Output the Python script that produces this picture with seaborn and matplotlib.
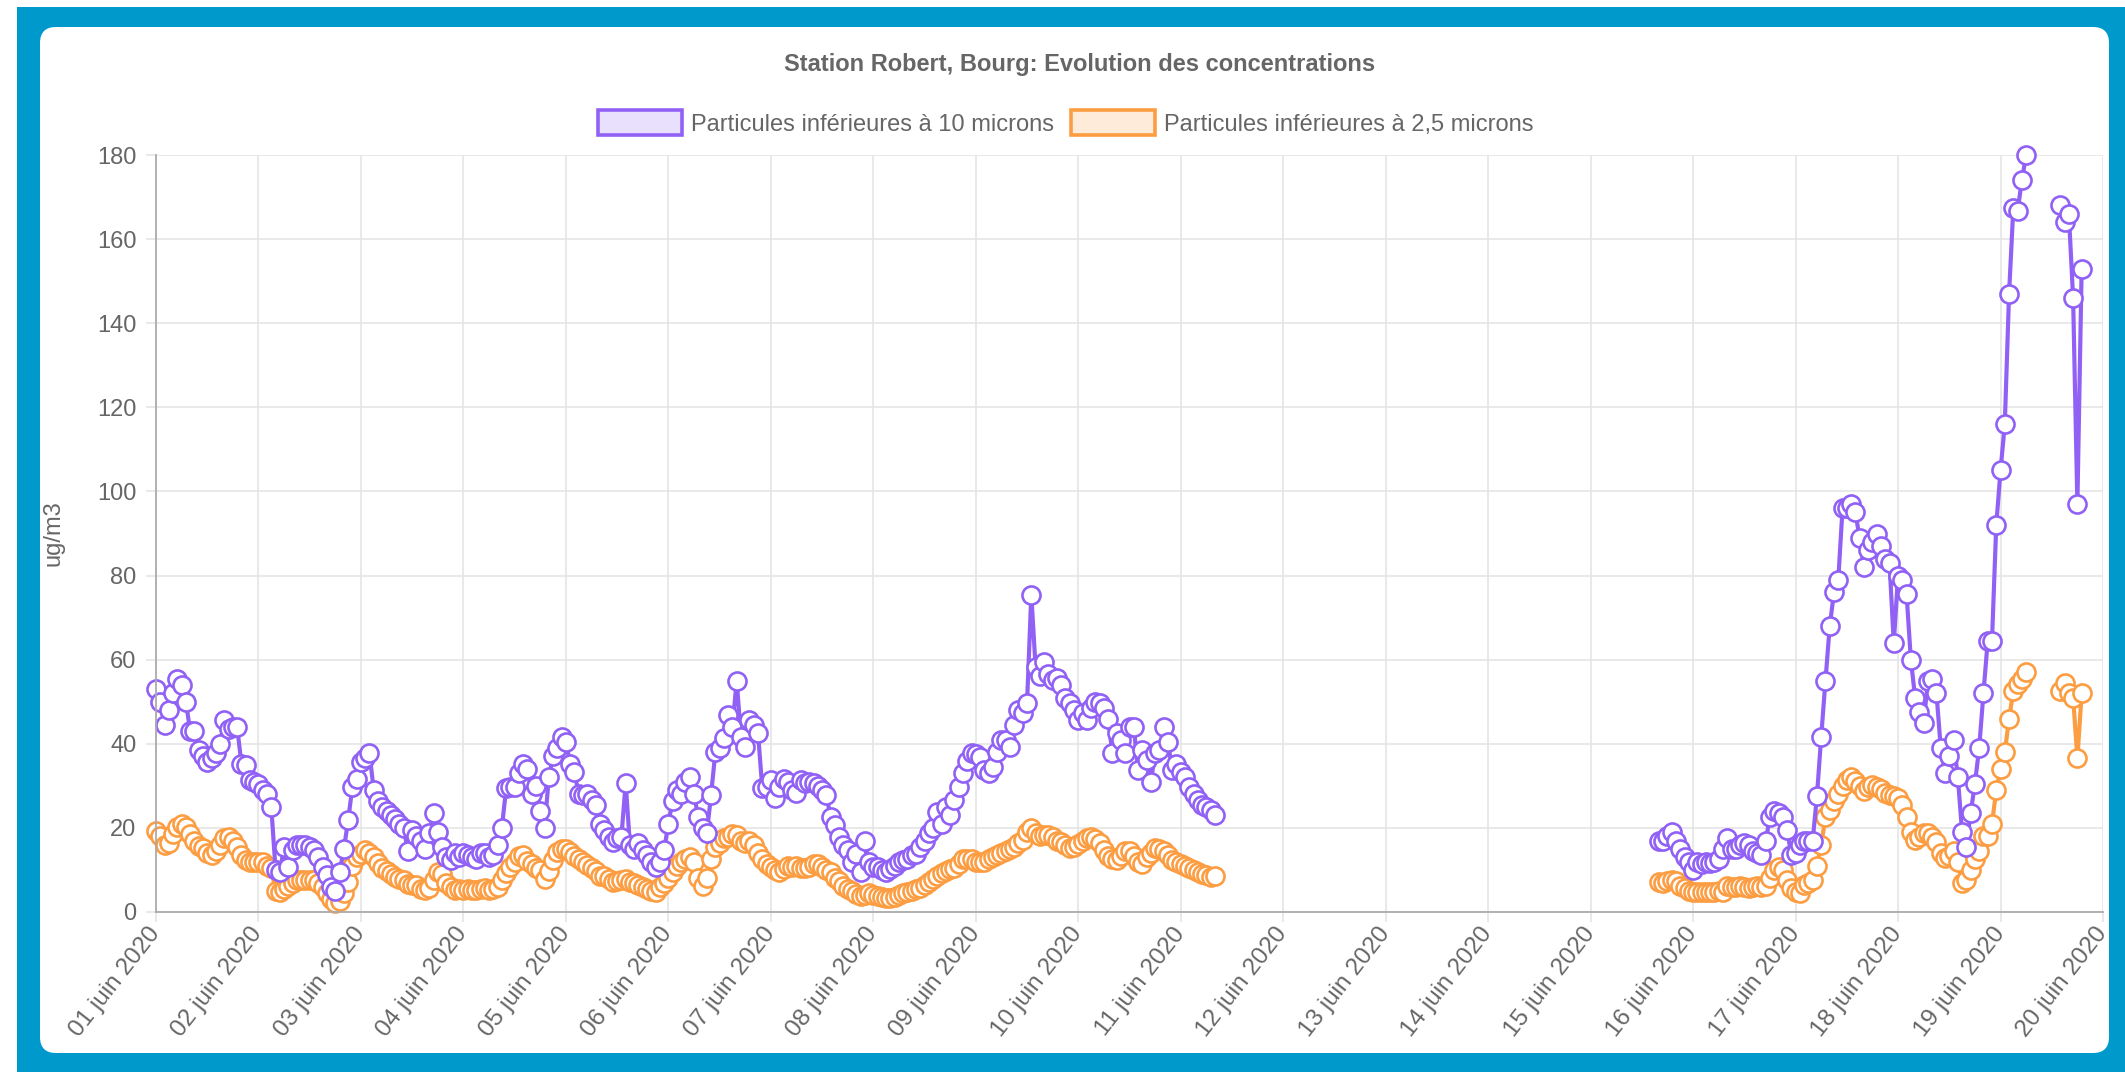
"""
Station Robert, Bourg - PM10 / PM2.5 hourly concentrations, June 2020
"""
import pandas as pd
import seaborn as sns
import matplotlib
matplotlib.use('agg')
import matplotlib.pyplot as plt
from matplotlib.patches import FancyBboxPatch, Rectangle, Patch
from matplotlib.transforms import IdentityTransform

W, H = 2125, 1072

# hourly values (ug/m3), three runs of measurements separated by gaps
seg_starts = ['2020-06-01 00:00', '2020-06-15 16:00', '2020-06-19 14:00']

pm10_a = [53, 50, 44.5, 48, 52, 55.5, 54, 50, 43, 43,
          38.5, 37, 35.7, 36.5, 37.7, 40, 45.6, 43.6, 44, 44,
          35.3, 35, 31.3, 31, 30.5, 29, 28, 25, 10, 9.5,
          15.5, 10.7, 14.7, 16, 15.9, 16, 15.5, 14.7, 13, 10.7,
          8.7, 6, 5, 9.5, 15, 21.8, 29.8, 31.7, 35.7, 36.5,
          37.7, 29, 26.5, 25, 24, 23, 22, 21, 20, 14.5,
          19.5, 18, 17, 15, 18.7, 23.5, 19, 15.5, 13, 12.3,
          14, 13, 14, 13.5, 13, 12.7, 14, 14, 13, 13.5,
          16, 20, 29.4, 29.8, 29.8, 33, 35.3, 34, 28, 30,
          24, 20, 32, 37, 39, 41.7, 40.5, 35.3, 33.3, 28,
          27.8, 28, 26.6, 25.4, 21, 19.4, 17.9, 16.7, 17.5, 17.9,
          30.6, 15.9, 15, 16.3, 14.7, 13.5, 11.9, 10.7, 11.9, 14.7,
          21, 26.5, 29, 28, 31, 32, 28, 22.5, 20, 18.7,
          27.8, 38, 39, 41.3, 46.8, 44, 55, 41.7, 39.3, 45.6,
          44.4, 42.5, 29.4, 29.8, 31.3, 27, 29.8, 31.7, 31, 29,
          28.2, 31.3, 30.6, 31, 30.6, 30, 29, 27.8, 22.6, 20.6,
          17.9, 15.9, 14.7, 11.9, 13.9, 9.5, 17, 11.9, 10.7, 10.7,
          9.9, 9.5, 10.3, 11, 11.9, 12.3, 12.7, 13.5, 13.9, 15.5,
          17, 18.7, 20, 23.8, 21, 25, 23, 26.6, 29.8, 33,
          36, 37.7, 37.5, 36.9, 33.7, 33, 34.5, 38, 40.9, 40.9,
          39.3, 44.4, 48, 47.2, 49.6, 75.4, 58.3, 56, 59.5, 56.7,
          55.2, 55.6, 54, 51, 49.6, 48, 45.6, 47.2, 45.6, 48.4,
          50, 49.6, 48.4, 46, 37.7, 42.5, 40.9, 37.7, 44, 44,
          33.7, 38.5, 36.1, 31, 37.7, 38.5, 44, 40.5, 33.7, 35.3,
          33.3, 32.1, 29.8, 28, 26.6, 25.4, 25, 24.2, 23]

pm25_a = [19.2, 18, 16, 16.5, 18.5, 20.2, 21, 20.2, 18.6, 17,
          15.8, 15.3, 14, 13.5, 14.5, 16, 17.7, 17.8, 17, 15.4,
          13.6, 12.4, 12, 12, 12, 11.8, 11, 10.5, 5, 4.7,
          5.5, 6.2, 7, 7.5, 7.5, 7.5, 7.5, 7.5, 7, 6,
          4.4, 3, 2.1, 2.5, 4.5, 7.2, 11, 13, 13.8, 14.8,
          14, 13, 11.6, 10.5, 9.8, 9, 8.3, 7.9, 7.6, 6.7,
          6.4, 6.5, 5.5, 5.2, 5.8, 7.5, 9.5, 9, 7, 6,
          5.3, 5.4, 5.2, 5.5, 5.3, 5.2, 5.4, 5.6, 5.3, 5.4,
          6, 7.5, 9.2, 10.7, 12, 13.2, 13.5, 12.2, 11.3, 10.5,
          10, 7.8, 9.8, 12.3, 14.2, 15, 14.9, 14.3, 13.3, 12.5,
          11.8, 11.2, 10.5, 9.7, 8.5, 8.6, 7.9, 7.1, 7.3, 7.6,
          7.9, 7.1, 6.8, 6.4, 6, 5.5, 5.1, 4.8, 5.9, 6.9,
          8.2, 9.6, 10.9, 12, 12.7, 13, 12, 8, 6.3, 8,
          12.5, 15.5, 16.5, 17.5, 17.9, 18.5, 18.2, 17, 16.5, 16.8,
          15.9, 14, 12.5, 11.5, 10.7, 10, 9.5, 10.2, 11, 10.7,
          11, 10.5, 10.4, 10.7, 11.5, 11.5, 10.8, 10, 9.5, 8.2,
          7.4, 6.3, 5.4, 4.9, 4.2, 3.7, 4, 4.4, 4, 3.7,
          3.6, 3.4, 3.3, 3.6, 4, 4.4, 4.7, 5, 5.5, 5.8,
          6.4, 7.1, 7.8, 8.5, 9.3, 9.8, 10.2, 10.5, 11.5, 12.5,
          12.7, 12.5, 12, 11.9, 12, 12.5, 13, 13.5, 14, 14.5,
          15, 15.5, 16.3, 17.2, 19, 20, 18.8, 18, 18.2, 18.2,
          17.8, 17, 16.7, 16, 15.3, 15.5, 16.2, 16.8, 17.5, 17.9,
          17.3, 16.3, 14.8, 13.3, 12.6, 12.3, 13.3, 14.5, 14.5, 13.2,
          12, 11.3, 13.1, 14.1, 15.3, 15, 14.4, 13.6, 12.3, 11.9,
          11.3, 10.9, 10.5, 9.9, 9.5, 9.1, 8.7, 8.4, 8.6]

pm10_b = [17, 17, 18, 19, 17, 15, 13, 12, 10, 12,
          11.5, 12, 11.6, 12, 12.5, 15, 17.5, 15, 15, 16,
          16.5, 16, 14.5, 14, 13.6, 17, 22.5, 24, 23.5, 22.5,
          19.5, 13.6, 14, 16, 17, 17, 17, 27.5, 41.7, 55,
          68, 76, 79, 96, 96, 97, 95, 89, 82, 86,
          88, 90, 87, 84, 83, 64, 80, 79, 75.5, 60,
          51, 47.5, 45, 55, 55.5, 52, 39, 33, 37, 41,
          32, 19, 15.5, 23.5, 30.5, 39, 52, 64.5, 64.5, 92,
          105, 116, 147, 167.5, 166.7, 174, 180]

pm25_b = [7.1, 6.8, 7.3, 7.6, 7.4, 6.3, 5.7, 5, 4.8, 4.8,
          4.8, 4.8, 4.8, 4.8, 4.9, 4.8, 6.3, 6, 5.9, 6.1,
          6, 5.8, 6, 6.2, 6, 6.3, 8, 10, 10.8, 10,
          7.5, 5.8, 4.8, 4.4, 6.5, 6.8, 7.5, 11, 16, 22.5,
          24.3, 26.5, 28.1, 30, 31.3, 32, 31.2, 30, 28.8, 29.8,
          30.2, 29.8, 29.2, 28.2, 27.8, 27.5, 27, 25.5, 22.5, 19,
          17.2, 17.8, 18.8, 18.8, 17.8, 16.7, 14, 12.8, 13.3, 14.5,
          12, 7, 7.5, 10, 12.5, 14.5, 18, 18, 21, 29,
          34, 38, 46, 52.5, 54.3, 55.5, 57]

pm10_c = [168, 164, 166, 146, 97, 153]
pm25_c = [52.5, 54.5, 52, 51, 36.5, 52]

series_names = ['Particules inférieures à 10 microns',
                'Particules inférieures à 2,5 microns']
day_labels = ['%02d juin 2020' % d for d in range(1, 21)]
y_ticks = list(range(0, 181, 20))

purple = '#9161f6'
orange = '#fd9d42'
purple_light = '#e9e0fd'
orange_light = '#feebd9'
txt = '#666666'
grid_col = '#e3e3e3'
fs = 17


# long table: one row per hourly measurement
frames = []
for seg, (start, p10, p25) in enumerate(zip(seg_starts, [pm10_a, pm10_b, pm10_c],
                                            [pm25_a, pm25_b, pm25_c])):
    frames.append(pd.DataFrame({'time': pd.date_range(start, periods=len(p10), freq='h'),
                                'value': p10, 'serie': 'pm10', 'seg': seg}))
    frames.append(pd.DataFrame({'time': pd.date_range(start, periods=len(p25), freq='h'),
                                'value': p25, 'serie': 'pm25', 'seg': seg}))
df = pd.concat(frames, ignore_index=True)

sns.set_style('white')
plt.rcParams['font.family'] = ['Liberation Sans', 'DejaVu Sans']

fig = plt.figure(figsize=(W / 100, H / 100), dpi=100)
fig.patch.set_facecolor('#0099cc')
# white strips on the top/left edge of the screenshot, then the white card
fig.patches.append(Rectangle((0, 0), 17, H, transform=IdentityTransform(),
                             facecolor='white', edgecolor='none', zorder=-5))
fig.patches.append(Rectangle((0, H - 7), W, 7, transform=IdentityTransform(),
                             facecolor='white', edgecolor='none', zorder=-5))
fig.patches.append(FancyBboxPatch((40, H - 1053), 2069, 1026,
                                  boxstyle='round,pad=0,rounding_size=16',
                                  transform=IdentityTransform(),
                                  facecolor='white', edgecolor='none', zorder=-5))

ax = fig.add_axes([156 / W, 1 - 912 / H, (2103 - 156) / W, (912 - 155) / H])
ax.set_facecolor('none')

for key, col in [('pm25', orange), ('pm10', purple)]:
    sns.lineplot(data=df[df.serie == key], x='time', y='value', units='seg',
                 estimator=None, ax=ax, legend=False, color=col, linewidth=3.0,
                 marker='o', markersize=13, markerfacecolor='white',
                 markeredgecolor=col, markeredgewidth=1.9, clip_on=False)

ax.set_xlim(pd.Timestamp('2020-06-01'), pd.Timestamp('2020-06-20'))
ax.set_ylim(0, 180)
ax.set_yticks(y_ticks)
ax.set_xticks(pd.date_range('2020-06-01', '2020-06-20', freq='D'))
ax.set_xticklabels(day_labels, rotation=52, ha='right', va='center',
                   rotation_mode='anchor', fontsize=17.5)
ax.set_xlabel('')
ax.set_ylabel('ug/m3', color=txt, fontsize=fs)
ax.yaxis.set_label_coords(-0.047, 0.5)

ax.grid(True, color=grid_col, linewidth=1.1)
ax.set_axisbelow(True)
ax.tick_params(axis='both', length=7, width=1.1, color=grid_col, labelcolor=txt)
ax.tick_params(axis='y', labelsize=fs, pad=7)
ax.tick_params(axis='x', pad=6)
ax.tick_params(axis='both', left=True, bottom=True)
for side in ['top', 'right']:
    ax.spines[side].set_visible(False)
for side in ['left', 'bottom']:
    ax.spines[side].set_color('#ababab')
    ax.spines[side].set_linewidth(1.3)

fig.text(1080 / W, 1 - 64 / H, 'Station Robert, Bourg: Evolution des concentrations',
         ha='center', va='center', fontsize=fs, fontweight='bold', color=txt)

handles = [Patch(facecolor=purple_light, edgecolor=purple, linewidth=2.6),
           Patch(facecolor=orange_light, edgecolor=orange, linewidth=2.6)]
fig.legend(handles=handles, labels=series_names, loc='center',
           bbox_to_anchor=(1066 / W, 1 - 123 / H), ncol=2, frameon=False,
           fontsize=fs, labelcolor=txt, handlelength=3.55, handleheight=1.2,
           handletextpad=0.4, columnspacing=0.7)

plt.savefig('out.png', dpi=100, facecolor=fig.get_facecolor())
plt.close()
